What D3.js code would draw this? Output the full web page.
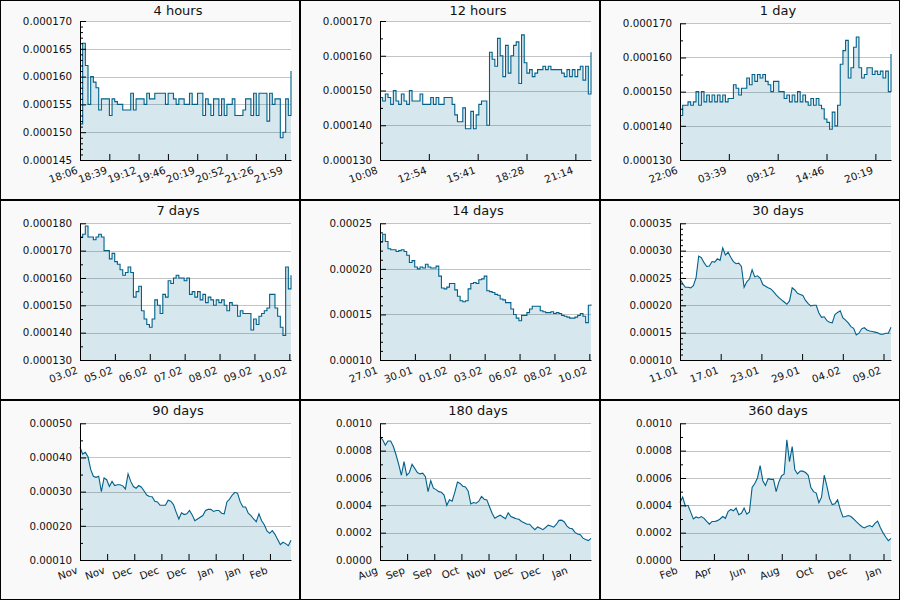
<!DOCTYPE html>
<html>
<head>
<meta charset="utf-8">
<script src="https://cdn.jsdelivr.net/npm/d3@7"></script>
<style>
  body { margin: 0; background: #fff; }
  text { font-family: "DejaVu Sans", sans-serif; fill: #111; }
</style>
</head>
<body>
<svg width="900" height="600"></svg>
<script>
// panel settings
const titles = ['4 hours', '12 hours', '1 day', '7 days', '14 days', '30 days', '90 days', '180 days', '360 days']
const starts = ['2022-02-10T18:06', '2022-02-10T10:08', '2022-02-09T22:06', '2022-02-03T22:06',
  '2022-01-27T22:06', '2022-01-11T22:06', '2021-11-12T22:06', '2021-08-14T22:06', '2021-02-16T22:06']
const spanSeconds = [14400, 43200, 86400, 604800, 1209600, 2592000, 7776000, 15552000, 31104000]
const tickStepSeconds = [2000, 10000, 20000, 100000, 200000, 500000, 1000000, 2000000, 5000000]
const tickLabels = [
  ['18:06', '18:39', '19:12', '19:46', '20:19', '20:52', '21:26', '21:59'],
  ['10:08', '12:54', '15:41', '18:28', '21:14'],
  ['22:06', '03:39', '09:12', '14:46', '20:19'],
  ['03.02', '05.02', '06.02', '07.02', '08.02', '09.02', '10.02'],
  ['27.01', '30.01', '01.02', '03.02', '06.02', '08.02', '10.02'],
  ['11.01', '17.01', '23.01', '29.01', '04.02', '09.02'],
  ['Nov', 'Nov', 'Dec', 'Dec', 'Dec', 'Jan', 'Jan', 'Feb'],
  ['Aug', 'Sep', 'Sep', 'Oct', 'Nov', 'Dec', 'Dec', 'Jan'],
  ['Feb', 'Apr', 'Jun', 'Aug', 'Oct', 'Dec', 'Jan']
]
// y axes, in millionths
const yDomains = [[145, 170], [130, 170], [130, 170], [130, 180], [100, 250], [100, 350], [100, 500], [0, 1000], [0, 1000]]
const yMajorSteps = [5, 10, 10, 10, 50, 50, 100, 200, 200]
const yMinorSteps = [1, 5, 5, 5, 10, 10, 50, 100, 100]
const yDecimals = [6, 6, 6, 6, 5, 5, 5, 4, 4]

// prices, in millionths, evenly spaced over each window
const hours4 = [151.5, 166, 162, 155, 160, 159, 158, 154, 156, 156, 156, 153, 156, 155.5, 155, 155, 154, 154, 154, 157,
  154, 156, 156, 156, 155, 157, 156, 156, 157, 157, 157, 157, 155, 157, 157, 156, 155, 156, 156, 155,
  155, 157, 155, 155, 157, 157, 153, 156, 155, 153, 156, 156, 153, 156, 153, 155, 155, 156, 153, 153,
  153, 154, 156, 156, 153, 157, 153, 157, 157, 157, 152, 157, 155, 156, 156, 149, 150, 156, 153, 161]
const hours12 = [148, 147, 149, 148, 146, 150, 147, 146, 149, 147, 146, 150, 147, 147, 147, 149, 146, 146, 146, 148,
  146, 148, 146, 146, 148, 148, 148, 146, 143, 141, 141, 145, 139, 139, 144, 139, 143, 146, 147, 147,
  140, 161, 159, 157, 165, 160, 154, 163, 155, 160, 163, 164, 152, 166, 158, 155, 156, 154, 155, 156,
  156, 157, 156, 157, 156, 156, 156, 156, 155, 154, 156, 154, 156, 154, 156, 157, 153, 157, 149, 161]
const day1 = [143, 146, 146, 147, 146, 147, 150, 146, 150, 147, 149, 147, 149, 147, 149, 147, 149, 147, 148, 148,
  152, 151, 149, 151, 151, 154, 152, 155, 153, 155, 154, 155, 153, 152, 150, 153, 153, 150, 150, 148,
  149, 147, 149, 147, 150, 147, 149, 147, 146, 148, 146, 148, 146, 145, 142, 141, 139, 144, 140, 146,
  158, 162, 165, 154, 157, 163, 166, 157, 154, 155, 157, 157, 155, 156, 155, 156, 154, 156, 150, 161]
const days7 = [175, 176, 179, 175, 175, 174, 175, 176, 175, 170, 170, 167, 169, 166, 165, 163, 161, 162, 164, 162,
  153, 155, 157, 148, 145, 143, 142, 145, 152, 150, 147, 154, 153, 159, 158, 160, 161, 160, 160, 159,
  160, 154, 155, 153, 155, 152, 154, 151, 153, 152, 150, 152, 151, 152, 150, 148, 151, 150, 150, 146,
  148, 147, 147, 147, 141, 145, 143, 146, 147, 148, 149, 154, 154, 149, 146, 142, 139, 164, 156, 161]
const days14 = [230, 238, 230, 222, 221, 221, 219, 220, 221, 219, 215, 207, 209, 202, 200, 202, 201, 205, 202, 201,
  201, 203, 192, 179, 178, 180, 184, 184, 177, 170, 165, 164, 165, 178, 184, 185, 184, 188, 189, 192,
  176, 175, 174, 172, 171, 167, 166, 163, 163, 156, 150, 146, 143, 149, 149, 152, 156, 159, 159, 159,
  154, 153, 152, 152, 153, 151, 152, 151, 149, 148, 147, 146, 146, 147, 149, 151, 148, 141, 160, 161]
const days30 = [248, 240, 233, 233, 232, 236, 250, 290, 287, 278, 271, 272, 280, 279, 285, 282, 305, 292, 297, 288,
  280, 276, 277, 271, 233, 243, 248, 265, 252, 254, 250, 238, 235, 232, 230, 225, 219, 214, 210, 206,
  202, 208, 232, 228, 222, 220, 218, 209, 203, 199, 200, 200, 186, 178, 179, 172, 169, 168, 183, 187,
  190, 177, 173, 168, 161, 158, 146, 149, 157, 159, 155, 153, 152, 151, 150, 147, 147, 149, 149, 160]
const days90 = [430, 410, 415, 402, 365, 345, 342, 345, 300, 340, 335, 315, 330, 318, 320, 320, 317, 308, 352, 330,
  315, 310, 318, 313, 302, 290, 286, 285, 272, 270, 260, 260, 260, 275, 272, 262, 240, 220, 238, 233,
  235, 245, 232, 215, 220, 225, 230, 245, 248, 248, 242, 245, 245, 237, 235, 270, 278, 290, 298, 295,
  270, 255, 255, 237, 230, 220, 212, 235, 215, 203, 185, 178, 186, 175, 160, 145, 152, 148, 142, 158]
const days180 = [900, 880, 840, 870, 870, 830, 770, 700, 620, 720, 620, 640, 700, 670, 640, 630, 635, 610, 500, 580,
  525, 515, 500, 495, 475, 400, 440, 430, 495, 570, 560, 540, 535, 505, 410, 420, 415, 430, 465, 445,
  440, 390, 340, 305, 318, 328, 315, 302, 345, 318, 310, 302, 298, 282, 272, 262, 262, 240, 222, 242,
  232, 222, 238, 255, 248, 240, 260, 290, 292, 278, 248, 232, 228, 202, 190, 185, 160, 150, 142, 158]
const days360 = [420, 460, 395, 400, 350, 300, 315, 308, 318, 305, 282, 262, 282, 282, 288, 300, 318, 305, 355, 370,
  360, 380, 332, 342, 380, 335, 352, 530, 560, 600, 690, 580, 545, 595, 590, 590, 500, 570, 615, 630,
  880, 720, 830, 660, 630, 650, 650, 640, 620, 530, 500, 490, 420, 460, 620, 540, 450, 405, 412, 440,
  370, 315, 318, 325, 318, 300, 280, 262, 245, 235, 245, 252, 242, 268, 285, 238, 200, 168, 142, 158]
const series = [hours4, hours12, day1, days7, days14, days30, days90, days180, days360]

const svg = d3.select('svg')
const panelW = 300
const panelH = 200
const plotLeft = 80
const plotRight = 291
const plotBottom = 160

titles.forEach((title, p) => {
  const col = p % 3
  const row = Math.floor(p / 3)
  const g = svg.append('g').attr('transform', `translate(${col * panelW},${row * panelH})`)
  // titles without descenders leave a taller plot
  const plotTop = /y/.test(title) ? 23.3 : 21
  // short windows look stepped, long ones ragged
  const curve = p < 5 ? d3.curveStepAfter : d3.curveLinear

  g.append('rect').
    attr('x', 0.5).attr('y', 0.5).
    attr('width', panelW - 1).attr('height', panelH - 1).
    attr('fill', '#f9f9f9').attr('stroke', '#000')

  g.append('rect').
    attr('x', plotLeft).attr('y', plotTop).
    attr('width', plotRight - plotLeft).attr('height', plotBottom - plotTop).
    attr('fill', '#fff')

  g.append('text').
    attr('x', 178).attr('y', 15).
    attr('text-anchor', 'middle').
    style('font-size', '13px').
    text(title)

  const t0 = new Date(starts[p])
  const span = spanSeconds[p] * 1000
  const x = d3.scaleTime().
    domain([t0, new Date(+t0 + span)]).
    range([plotLeft, plotRight])

  const [lo, hi] = yDomains[p]
  const y = d3.scaleLinear().
    domain([lo * 1e-6, hi * 1e-6]).
    range([plotBottom, plotTop])

  const majors = d3.range(lo, hi + yMajorSteps[p] / 2, yMajorSteps[p]).map(v => v * 1e-6)
  const minors = d3.range(lo, hi + yMinorSteps[p] / 2, yMinorSteps[p]).
    filter(v => Math.abs(v / yMajorSteps[p] - Math.round(v / yMajorSteps[p])) > 1e-6).
    map(v => v * 1e-6)

  // grid
  g.append('g').
    selectAll('line').
    data(majors.slice(1)).
    enter().
    append('line').
    attr('x1', plotLeft).attr('x2', plotRight).
    attr('y1', d => Math.round(y(d)) + 0.5).attr('y2', d => Math.round(y(d)) + 0.5).
    attr('stroke', '#c4c4c4')

  const n = series[p].length
  const pts = series[p].map((v, i) => ({ t: new Date(+t0 + span * i / (n - 1)), v: v * 1e-6 }))

  g.append('path').
    datum(pts).
    attr('fill', 'rgb(0,105,148)').
    attr('fill-opacity', 0.16).
    attr('d', d3.area().curve(curve).x(d => x(d.t)).y0(plotBottom).y1(d => y(d.v)))

  g.append('path').
    datum(pts).
    attr('fill', 'none').
    attr('stroke', '#00618b').
    attr('stroke-width', 1.1).
    attr('d', d3.line().curve(curve).x(d => x(d.t)).y(d => y(d.v)))

  // y axis
  g.append('g').
    attr('transform', `translate(${plotLeft},0)`).
    call(d3.axisLeft(y).tickValues(minors).tickSize(-3).tickFormat('')).
    call(a => a.select('.domain').remove())

  const yAxis = g.append('g').
    attr('transform', `translate(${plotLeft},0)`).
    call(d3.axisLeft(y).
      tickValues(majors).
      tickSizeInner(-6).tickSizeOuter(0).tickPadding(8).
      tickFormat(d3.format(`.${yDecimals[p]}f`)))
  yAxis.selectAll('text').style('font-size', '10.3px').attr('fill', '#111')

  // x axis
  const labels = tickLabels[p]
  const tickTimes = labels.map((_, i) => new Date(+t0 + tickStepSeconds[p] * 1000 * i))
  const xAxis = g.append('g').
    attr('transform', `translate(0,${plotBottom})`).
    call(d3.axisBottom(x).
      tickValues(tickTimes).
      tickSizeInner(-6).tickSizeOuter(0).
      tickFormat((d, i) => labels[i]))
  xAxis.selectAll('text').
    attr('y', 0).attr('dy', 0).
    attr('text-anchor', 'end').
    attr('transform', 'translate(-2,13) rotate(-20)').
    style('font-size', '10.3px').attr('fill', '#111')

  g.selectAll('.domain, .tick line').attr('stroke', '#000')
  g.selectAll('.tick line').attr('stroke-width', 1)
})
</script>
</body>
</html>
